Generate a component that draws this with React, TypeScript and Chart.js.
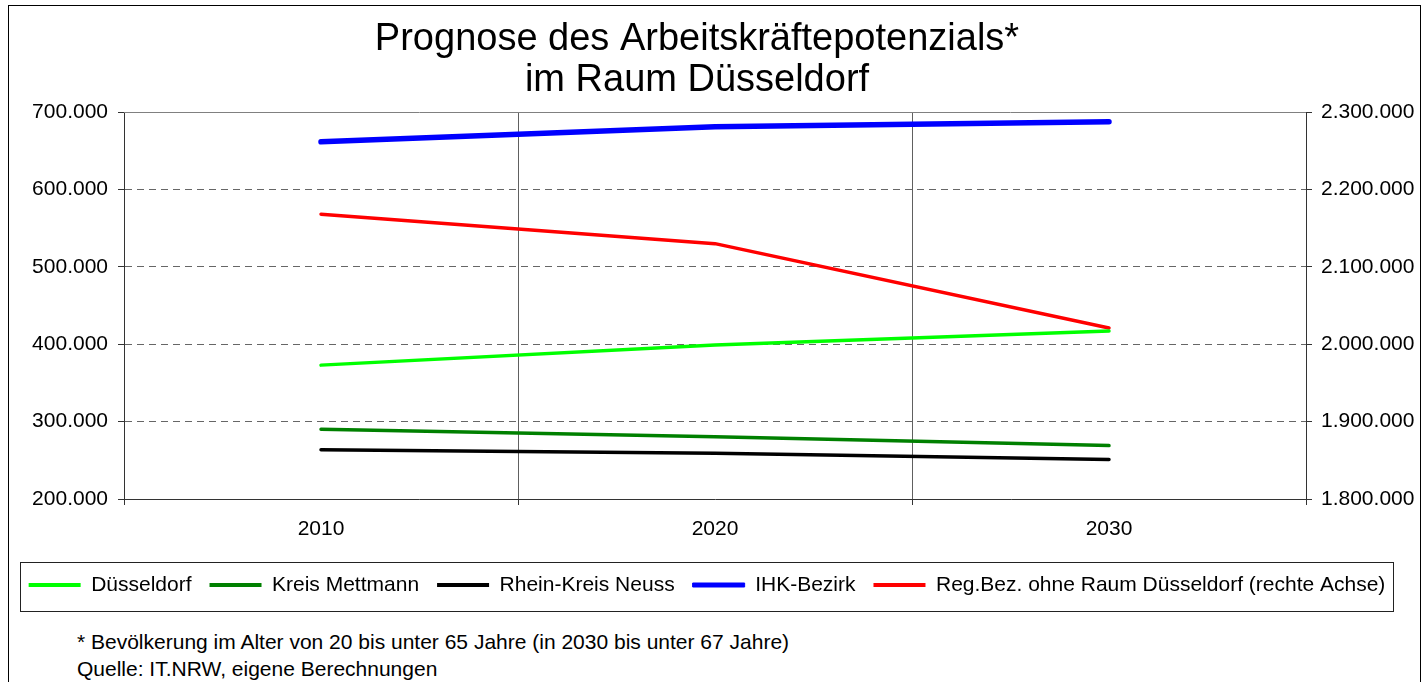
import React, { useEffect, useRef } from 'react';
import { Chart, registerables } from 'chart.js';

Chart.register(...registerables);

// ---- data ----
const categories = ['2010', '2020', '2030'];
const duesseldorf = [373000, 399000, 417000];
const kreisMettmann = [290000, 280500, 269000];
const rheinKreisNeuss = [263500, 259000, 251000];
const ihkBezirk = [661500, 681000, 687500];
const regBezOhneRaum = [2168000, 2130000, 2021000];

const leftTicks = [200000, 300000, 400000, 500000, 600000, 700000];
const rightTicks = [1800000, 1900000, 2000000, 2100000, 2200000, 2300000];

const seriesLabels = [
  'Düsseldorf',
  'Kreis Mettmann',
  'Rhein-Kreis Neuss',
  'IHK-Bezirk',
  'Reg.Bez. ohne Raum Düsseldorf (rechte Achse)',
];
const seriesColors = ['#00FF00', '#008000', '#000000', '#0000FF', '#FF0000'];

const titleLines = ['Prognose des Arbeitskräftepotenzials*', 'im Raum Düsseldorf'];
const footnotes = [
  '* Bevölkerung im Alter von 20 bis unter 65 Jahre (in 2030 bis unter 67 Jahre)',
  'Quelle: IT.NRW, eigene Berechnungen',
];

const FONT = '"Liberation Sans", Arial, Helvetica, sans-serif';

const fmt = (v: number) =>
  Math.round(v)
    .toString()
    .replace(/\B(?=(\d{3})+(?!\d))/g, '.');

const framePlugin = {
  id: 'frameDecor',
  afterLayout(chart: any) {
    const t = chart.titleBlock;
    if (t) {
      t.left -= 17;
      t.right -= 17;
    }
    const lg = chart.legend;
    if (lg) {
      lg.left -= 7;
      lg.right -= 7;
    }
  },
  beforeDatasetsDraw(chart: any) {
    const { ctx, chartArea } = chart;
    ctx.save();
    ctx.strokeStyle = '#808080';
    ctx.lineWidth = 1;
    const y = Math.round(chartArea.top) + 0.5;
    ctx.beginPath();
    ctx.moveTo(chartArea.left, y);
    ctx.lineTo(chartArea.right, y);
    ctx.stroke();
    ctx.restore();
  },
  afterDraw(chart: any) {
    const lg = chart.legend;
    if (!lg || !lg.legendHitBoxes || !lg.legendHitBoxes.length) return;
    const hb = lg.legendHitBoxes[0];
    const cy = hb.top + hb.height / 2;
    const { ctx } = chart;
    ctx.save();
    ctx.strokeStyle = '#222';
    ctx.lineWidth = 1;
    const top = Math.round(cy - 23) + 0.5;
    const bottom = Math.round(cy + 26) + 0.5;
    const left = 11.5;
    const right = chart.width - 26 + 0.5;
    ctx.strokeRect(left, top, right - left, bottom - top);
    ctx.restore();
  },
};

export default function App() {
  const canvasRef = useRef<HTMLCanvasElement | null>(null);

  useEffect(() => {
    document.documentElement.style.overflow = 'hidden';
    const canvas = canvasRef.current;
    if (!canvas) return;
    Chart.defaults.font.family = FONT;
    Chart.defaults.font.size = 21;
    Chart.defaults.color = '#000';

    const seriesData = [duesseldorf, kreisMettmann, rheinKreisNeuss, ihkBezirk, regBezOhneRaum];

    const chart = new Chart(canvas, {
      type: 'line',
      data: {
        labels: categories,
        datasets: seriesData.map((d, i) => ({
          label: seriesLabels[i],
          data: d,
          borderColor: seriesColors[i],
          backgroundColor: seriesColors[i],
          borderWidth: i === 3 ? 5.5 : 3.5,
          borderCapStyle: 'round' as const,
          borderJoinStyle: 'round' as const,
          pointRadius: 0,
          pointHoverRadius: 0,
          tension: 0,
          fill: false,
          yAxisID: i === 4 ? 'y1' : 'y',
        })),
      },
      options: {
        responsive: false,
        animation: false,
        devicePixelRatio: 1,
        layout: { padding: { top: 0, left: 0, right: 0, bottom: 10.5 } },
        plugins: {
          tooltip: { enabled: false },
          title: {
            display: true,
            text: titleLines,
            color: '#000',
            font: { family: FONT, size: 38, weight: 'normal', lineHeight: 1.08 },
            padding: { top: 12.5, bottom: 11.5 },
          },
          legend: {
            display: true,
            position: 'bottom',
            labels: {
              boxWidth: 52,
              boxHeight: 4,
              padding: 18,
              color: '#000',
              font: { family: FONT, size: 21 },
              generateLabels: (c: any) =>
                c.data.datasets.map((ds: any, i: number) => ({
                  text: ds.label,
                  fillStyle: ds.borderColor,
                  strokeStyle: ds.borderColor,
                  lineWidth: i === 3 ? 1 : 0,
                  hidden: false,
                  datasetIndex: i,
                  fontColor: '#000',
                })),
            },
          },
        },
        scales: {
          x: {
            type: 'category',
            offset: true,
            grid: {
              offset: true,
              color: '#606060',
              lineWidth: 1,
              drawTicks: true,
              tickLength: 6,
              tickColor: '#333',
            },
            border: { display: true, color: '#333', width: 1 },
            ticks: { padding: 12, color: '#000', font: { family: FONT, size: 21 }, maxRotation: 0 },
            afterFit: (s: any) => {
              s.height = 57.5;
            },
          },
          y: {
            position: 'left',
            min: leftTicks[0],
            max: leftTicks[leftTicks.length - 1],
            afterBuildTicks: (s: any) => {
              s.ticks = leftTicks.map((v) => ({ value: v }));
            },
            grid: {
              color: (ctx: any) =>
                ctx.tick && (ctx.tick.value === leftTicks[0] || ctx.tick.value === leftTicks[leftTicks.length - 1])
                  ? 'rgba(0,0,0,0)'
                  : '#666',
              lineWidth: 1,
              drawTicks: true,
              tickLength: 6,
              tickColor: '#333',
            },
            border: { display: true, color: '#333', width: 1, dash: [7, 5] },
            ticks: {
              padding: 10,
              color: '#000',
              font: { family: FONT, size: 21 },
              callback: (v: any) => fmt(Number(v)),
            },
            afterFit: (s: any) => {
              s.width = 115;
            },
          },
          y1: {
            position: 'right',
            min: rightTicks[0],
            max: rightTicks[rightTicks.length - 1],
            afterBuildTicks: (s: any) => {
              s.ticks = rightTicks.map((v) => ({ value: v }));
            },
            grid: {
              drawOnChartArea: false,
              drawTicks: true,
              tickLength: 6,
              tickColor: '#333',
            },
            border: { display: true, color: '#333', width: 1 },
            ticks: {
              padding: 9,
              color: '#000',
              font: { family: FONT, size: 21 },
              callback: (v: any) => fmt(Number(v)),
            },
            afterFit: (s: any) => {
              s.width = 113;
            },
          },
        },
      } as any,
      plugins: [framePlugin],
    });

    return () => {
      chart.destroy();
    };
  }, []);

  return (
    <div
      style={{
        position: 'absolute',
        left: 8,
        top: 5,
        width: 1413,
        height: 690,
        boxSizing: 'border-box',
        border: '1px solid #000',
        background: '#fff',
      }}
    >
      <canvas ref={canvasRef} width={1410} height={610} style={{ display: 'block', width: 1410, height: 610 }} />
      <div
        style={{
          position: 'absolute',
          left: 68,
          top: 621.5,
          fontFamily: FONT,
          fontSize: 21,
          lineHeight: '27px',
          color: '#000',
          whiteSpace: 'nowrap',
        }}
      >
        {footnotes.map((f, i) => (
          <div key={i}>{f}</div>
        ))}
      </div>
    </div>
  );
}
